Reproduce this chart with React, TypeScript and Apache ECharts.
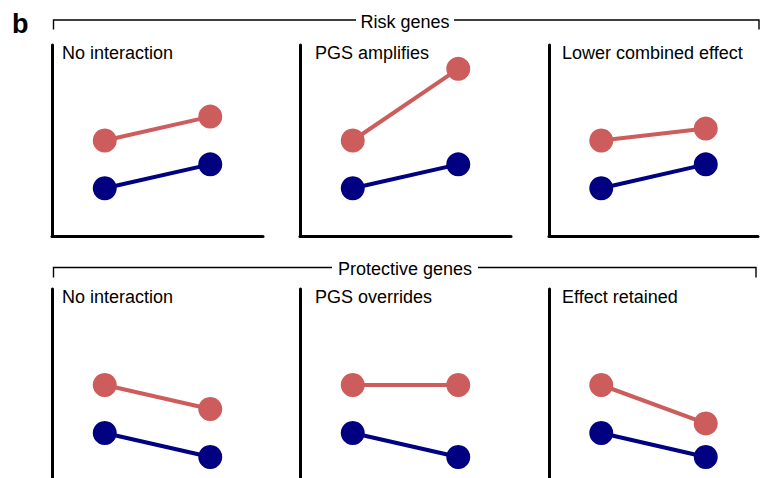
import React, { useEffect, useRef } from "react";
import * as echarts from "echarts";

// ---- data ----
const topTitles = ["No interaction", "PGS amplifies", "Lower combined effect"];
const bottomTitles = ["No interaction", "PGS overrides", "Effect retained"];
const groupLabels = ["Risk genes", "Protective genes"];
const xPositions = [1, 3];
// [left, right] values per panel
const riskHigh = [[8, 10], [8, 14], [8, 9]];
const riskLow = [[4, 6], [4, 6], [4, 6]];
const protHigh = [[8, 6], [8, 8], [8, 4.8]];
const protLow = [[4, 2], [4, 2], [4, 2]];

const RED = "#CD5C5C";
const BLUE = "#000080";
const FONT = "'Liberation Sans', Arial, Helvetica, sans-serif";

export default function App() {
  const ref = useRef<HTMLDivElement>(null);
  useEffect(() => {
    if (!ref.current) return;
    const chart = echarts.init(ref.current, undefined, { renderer: "svg" });

    const lefts = [52, 300, 549];
    const widths = [211, 211, 209];
    const rows = [
      { top: 45, height: 191, ymin: 0, high: riskHigh, low: riskLow, showX: true, titles: topTitles },
      { top: 289, height: 189, ymin: 0.25, high: protHigh, low: protLow, showX: false, titles: bottomTitles },
    ];
    const titleX = [62, 315, 562];

    const grid: any[] = [];
    const xAxis: any[] = [];
    const yAxis: any[] = [];
    const series: any[] = [];
    const graphic: any[] = [];
    let gi = 0;
    rows.forEach((row) => {
      for (let p = 0; p < 3; p++) {
        grid.push({ left: lefts[p], top: row.top, width: widths[p], height: row.height });
        xAxis.push({
          type: "value", gridIndex: gi, min: 0, max: 4,
          axisLine: { show: row.showX, lineStyle: { color: "#000", width: 3 } },
          axisTick: { show: false }, axisLabel: { show: false }, splitLine: { show: false },
        });
        yAxis.push({
          type: "value", gridIndex: gi, min: row.ymin, max: 16,
          axisLine: { show: true, onZero: false, lineStyle: { color: "#000", width: 3 } },
          axisTick: { show: false }, axisLabel: { show: false }, splitLine: { show: false },
        });
        const mk = (vals: number[], color: string) => ({
          type: "line", xAxisIndex: gi, yAxisIndex: gi,
          data: xPositions.map((x, i) => [x, vals[i]]),
          symbol: "circle", symbolSize: 24, showSymbol: true,
          lineStyle: { color, width: 4 }, itemStyle: { color },
          silent: true, clip: false,
        });
        series.push(mk(row.high[p], RED));
        series.push(mk(row.low[p], BLUE));
        graphic.push({
          type: "text", left: titleX[p], top: row.top - 1,
          style: { text: row.titles[p], fill: "#000", font: `18px ${FONT}` },
        });
        gi++;
      }
    });

    // brackets
    const brackets = [
      { y: 20, l1: 356, r1: 454, rx: 759, tick: 9.5, label: groupLabels[0] },
      { y: 267.5, l1: 332, r1: 478, rx: 756, tick: 10, label: groupLabels[1] },
    ];
    brackets.forEach((b) => {
      graphic.push({
        type: "polyline",
        shape: { points: [[53.5, b.y + b.tick], [53.5, b.y], [b.l1, b.y]] },
        style: { stroke: "#000", lineWidth: 1.4, fill: null },
      });
      graphic.push({
        type: "polyline",
        shape: { points: [[b.r1, b.y], [b.rx, b.y], [b.rx, b.y + b.tick]] },
        style: { stroke: "#000", lineWidth: 1.4, fill: null },
      });
      graphic.push({
        type: "text", x: 405, y: b.y + 1.5,
        style: { text: b.label, fill: "#000", font: `18px ${FONT}`, align: "center", verticalAlign: "middle" },
      });
    });
    graphic.push({
      type: "text", x: 12, y: 24,
      style: { text: "b", fill: "#000", font: `bold 27px ${FONT}`, align: "left", verticalAlign: "middle" },
    });

    chart.setOption({
      animation: false,
      backgroundColor: "#fff",
      grid, xAxis, yAxis, series, graphic,
    });
    return () => chart.dispose();
  }, []);
  return (
    <div
      ref={ref}
      style={{ position: "fixed", left: 0, top: 0, width: 761, height: 478 }}
    />
  );
}
